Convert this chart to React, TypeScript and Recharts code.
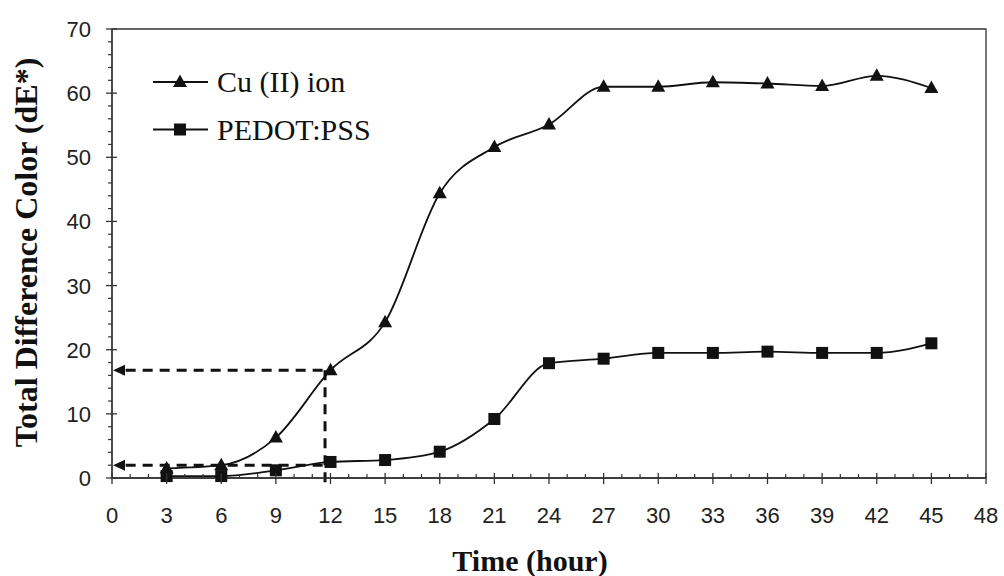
import React from 'react';
import {
  LineChart,
  Line,
  XAxis,
  YAxis,
  ReferenceLine,
  ReferenceDot,
  ReferenceArea,
  Legend,
  Label,
} from 'recharts';

// ---- data ----
const hours = [3, 6, 9, 12, 15, 18, 21, 24, 27, 30, 33, 36, 39, 42, 45];
const cuIon = [1.5, 2.0, 6.3, 16.8, 24.3, 44.4, 51.6, 55.1, 61.0, 61.0, 61.7, 61.5, 61.1, 62.7, 60.8];
const pedotPss = [0.3, 0.3, 1.2, 2.5, 2.8, 4.1, 9.2, 17.9, 18.6, 19.5, 19.5, 19.7, 19.5, 19.5, 21.0];
const seriesNames = ['Cu (II) ion', 'PEDOT:PSS'];

const xMajorTicks = [0, 3, 6, 9, 12, 15, 18, 21, 24, 27, 30, 33, 36, 39, 42, 45, 48];
const yMajorTicks = [0, 10, 20, 30, 40, 50, 60, 70];
const xMinorStep = 1;
const yMinorStep = 2;

// dashed read-off guides
const guideHour = 11.7;
const guideLevels = [16.8, 2.0];
const guideBottom = -1.7;

const xAll: number[] = [];
for (let v = 0; v <= 48; v += xMinorStep) xAll.push(v);
const yAll: number[] = [];
for (let v = 0; v <= 70; v += yMinorStep) yAll.push(v);

const data = hours.map((h, i) => ({ hour: h, cu: cuIon[i], pedot: pedotPss[i] }));

const INK = '#111';
const AXIS = '#333';
const SANS = "'Liberation Sans', Arial, sans-serif";
const SERIF = "'Liberation Serif', 'Times New Roman', serif";

const TriangleMark = ({ cx, cy }: any) => {
  if (cx == null || cy == null) return null;
  return <path d={`M${cx},${cy - 7.5}L${cx + 7},${cy + 5}L${cx - 7},${cy + 5}Z`} fill={INK} />;
};
const SquareMark = ({ cx, cy }: any) => {
  if (cx == null || cy == null) return null;
  return <rect x={cx - 6} y={cy - 6} width={12} height={12} fill={INK} />;
};

const XTick = (props: any) => {
  const { x, y, payload } = props;
  const v = payload.value;
  const major = xMajorTicks.includes(v);
  return (
    <g>
      {major ? (
        <line x1={x} x2={x} y1={y - 5} y2={y + 6} stroke={AXIS} strokeWidth={1.3} />
      ) : (
        <line x1={x} x2={x} y1={y - 4} y2={y} stroke={AXIS} strokeWidth={1.2} />
      )}
      {major && (
        <text x={x} y={y + 45} textAnchor="middle" fontFamily={SANS} fontSize={22} fill="#222">
          {v}
        </text>
      )}
    </g>
  );
};

const YTick = (props: any) => {
  const { x, y, payload } = props;
  const v = payload.value;
  const major = yMajorTicks.includes(v);
  return (
    <g>
      {major ? (
        <line x1={x - 6} x2={x + 5} y1={y} y2={y} stroke={AXIS} strokeWidth={1.3} />
      ) : (
        <line x1={x - 4} x2={x} y1={y} y2={y} stroke={AXIS} strokeWidth={1.2} />
      )}
      {major && (
        <text x={x - 21} y={y + 8} textAnchor="end" fontFamily={SANS} fontSize={22} fill="#222">
          {v}
        </text>
      )}
    </g>
  );
};

const ArrowHead = ({ cx, cy }: any) => {
  if (cx == null || cy == null) return null;
  return <path d={`M${cx + 1},${cy}L${cx + 13},${cy - 5.5}L${cx + 13},${cy + 5.5}Z`} fill={INK} />;
};

const LegendContent = (props: any) => {
  const payload = props.payload || [];
  return (
    <svg width={420} height={170} style={{ display: 'block' }}>
      {payload.map((entry: any, i: number) => {
        const ry = 82 + i * 47.5;
        return (
          <g key={i}>
            <line x1={153} x2={208} y1={ry} y2={ry} stroke={INK} strokeWidth={1.8} />
            {i === 0 ? <TriangleMark cx={180} cy={ry} /> : <SquareMark cx={180} cy={ry} />}
            <text x={217} y={ry + 10} fontFamily={SERIF} fontSize={30} fill={INK}>
              {entry.value}
            </text>
          </g>
        );
      })}
    </svg>
  );
};

export default function App() {
  return (
    <div style={{ position: 'absolute', left: 0, top: 0, width: 1004, height: 576, background: '#fff' }}>
      <LineChart width={1004} height={576} data={data} margin={{ top: 29, right: 18, bottom: 18, left: 52 }}>
        <ReferenceArea x1={0} x2={48} y1={0} y2={70} fill="none" stroke={AXIS} strokeWidth={1.3} ifOverflow="visible" />
        <XAxis
          dataKey="hour"
          type="number"
          domain={[0, 48]}
          ticks={xAll}
          interval={0}
          tickLine={false}
          tickSize={0}
          tickMargin={0}
          tick={(p: any) => <XTick {...p} />}
          axisLine={{ stroke: AXIS, strokeWidth: 1.3 }}
          height={80}
        >
          <Label
            content={({ viewBox }: any) => (
              <text
                x={viewBox.x + viewBox.width / 2 - 19}
                y={viewBox.y + 93}
                textAnchor="middle"
                fontFamily={SERIF}
                fontWeight="bold"
                fontSize={30}
                fill={INK}
              >
                Time (hour)
              </text>
            )}
          />
        </XAxis>
        <YAxis
          type="number"
          domain={[0, 70]}
          ticks={yAll}
          interval={0}
          tickLine={false}
          tickSize={0}
          tickMargin={0}
          tick={(p: any) => <YTick {...p} />}
          axisLine={{ stroke: AXIS, strokeWidth: 1.3 }}
          width={60}
        >
          <Label
            content={({ viewBox }: any) => {
              const cx = 37;
              const cy = viewBox.y + viewBox.height / 2 - 1;
              return (
                <text
                  x={cx}
                  y={cy}
                  transform={`rotate(-90, ${cx}, ${cy})`}
                  textAnchor="middle"
                  fontFamily={SERIF}
                  fontWeight="bold"
                  fontSize={32}
                  fill={INK}
                >
                  Total Difference Color (dE*)
                </text>
              );
            }}
          />
        </YAxis>
        <Legend
          layout="vertical"
          align="center"
          verticalAlign="middle"
          content={(p: any) => <LegendContent {...p} />}
          wrapperStyle={{ position: 'absolute', left: 0, top: 0, width: 420, height: 170 }}
        />
        {guideLevels.map((lv, i) => (
          <ReferenceLine
            key={`h${i}`}
            segment={[
              { x: 0.75, y: lv },
              { x: guideHour, y: lv },
            ]}
            stroke={INK}
            strokeWidth={3}
            strokeDasharray="10 7"
            ifOverflow="visible"
          />
        ))}
        <ReferenceLine
          segment={[
            { x: guideHour, y: guideLevels[0] },
            { x: guideHour, y: guideBottom },
          ]}
          stroke={INK}
          strokeWidth={3}
          strokeDasharray="10 7"
          ifOverflow="visible"
        />
        {guideLevels.map((lv, i) => (
          <ReferenceDot key={`a${i}`} x={0} y={lv} r={0} ifOverflow="visible" shape={(p: any) => <ArrowHead {...p} />} />
        ))}
        <Line
          name={seriesNames[0]}
          dataKey="cu"
          type="monotone"
          stroke={INK}
          strokeWidth={1.8}
          dot={(p: any) => <TriangleMark key={`t${p.index}`} {...p} />}
          isAnimationActive={false}
        />
        <Line
          name={seriesNames[1]}
          dataKey="pedot"
          type="monotone"
          stroke={INK}
          strokeWidth={1.8}
          dot={(p: any) => <SquareMark key={`s${p.index}`} {...p} />}
          isAnimationActive={false}
        />
      </LineChart>
    </div>
  );
}
